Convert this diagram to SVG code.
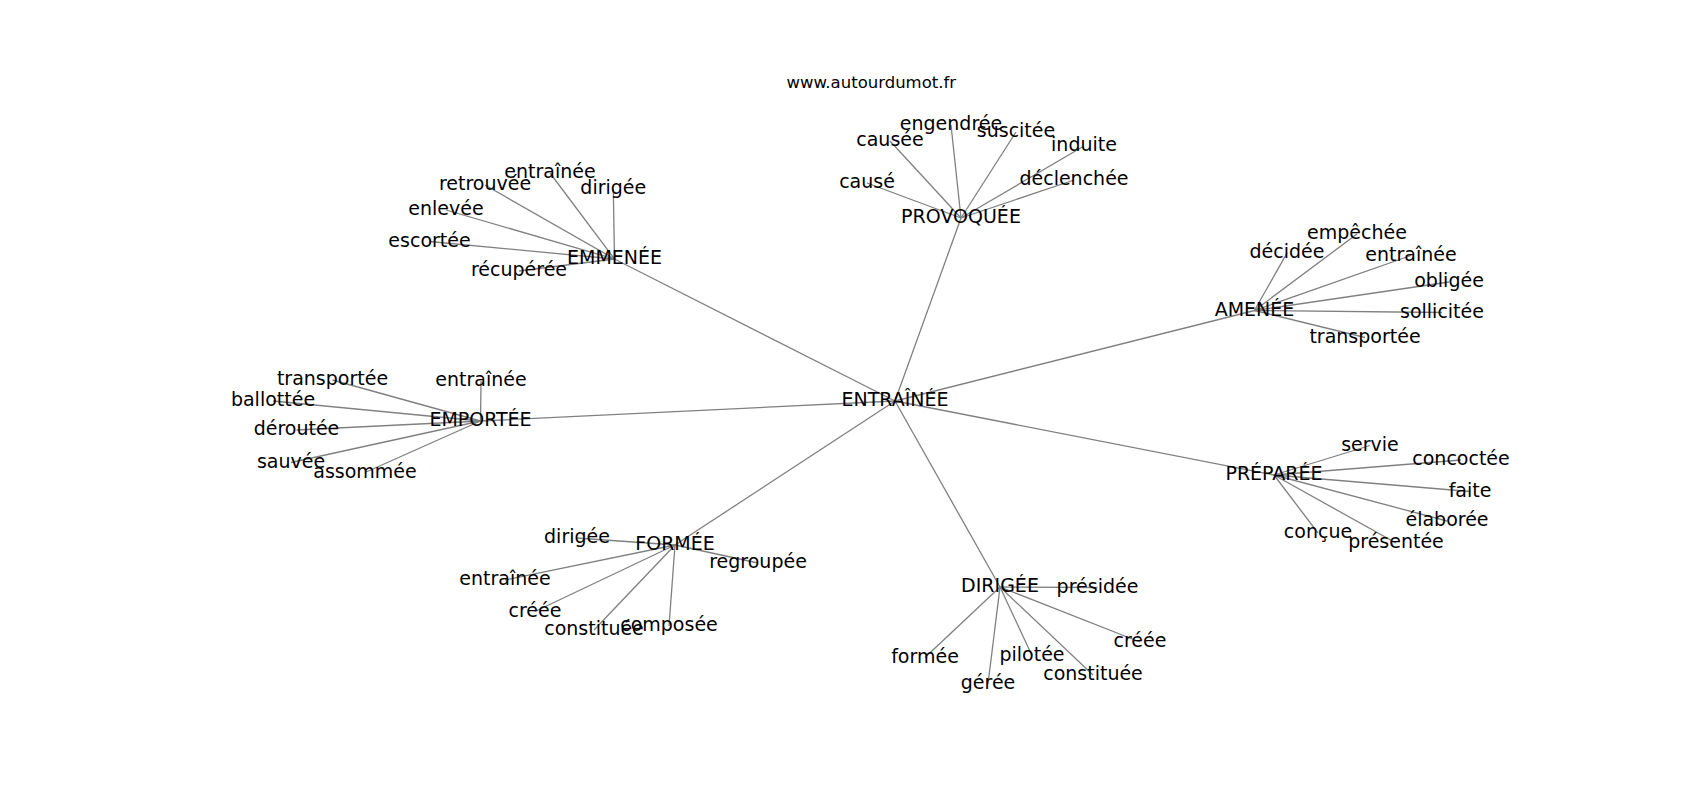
<svg xmlns="http://www.w3.org/2000/svg" width="1700" height="800" viewBox="0 0 1700 800">
<style>
.e{stroke:#808080;stroke-width:1.3;fill:none}
text{font-family:"DejaVu Sans",sans-serif;font-size:19px;fill:#000;text-anchor:middle}
.t{font-size:16.5px}
</style>
<rect width="1700" height="800" fill="#fff"/>
<text class="t" x="871.25" y="88">www.autourdumot.fr</text>
<g id="edges">
<line class="e" x1="895" y1="401" x2="614.5" y2="259"/>
<line class="e" x1="895" y1="401" x2="961" y2="218"/>
<line class="e" x1="895" y1="401" x2="1254.5" y2="310.5"/>
<line class="e" x1="895" y1="401" x2="480.5" y2="421"/>
<line class="e" x1="895" y1="401" x2="1274" y2="475"/>
<line class="e" x1="895" y1="401" x2="675" y2="545"/>
<line class="e" x1="895" y1="401" x2="1000" y2="587"/>
<line class="e" x1="614.5" y1="259" x2="550" y2="173"/>
<line class="e" x1="614.5" y1="259" x2="485" y2="185"/>
<line class="e" x1="614.5" y1="259" x2="613.3" y2="189"/>
<line class="e" x1="614.5" y1="259" x2="446" y2="210"/>
<line class="e" x1="614.5" y1="259" x2="429.5" y2="241.5"/>
<line class="e" x1="614.5" y1="259" x2="519" y2="271"/>
<line class="e" x1="961" y1="218" x2="867" y2="183"/>
<line class="e" x1="961" y1="218" x2="890" y2="141"/>
<line class="e" x1="961" y1="218" x2="951" y2="125"/>
<line class="e" x1="961" y1="218" x2="1016" y2="132"/>
<line class="e" x1="961" y1="218" x2="1084" y2="146"/>
<line class="e" x1="961" y1="218" x2="1074" y2="180"/>
<line class="e" x1="1254.5" y1="310.5" x2="1287" y2="253"/>
<line class="e" x1="1254.5" y1="310.5" x2="1357" y2="234"/>
<line class="e" x1="1254.5" y1="310.5" x2="1411" y2="255.5"/>
<line class="e" x1="1254.5" y1="310.5" x2="1449" y2="282"/>
<line class="e" x1="1254.5" y1="310.5" x2="1442" y2="312.5"/>
<line class="e" x1="1254.5" y1="310.5" x2="1365" y2="337.5"/>
<line class="e" x1="480.5" y1="421" x2="481" y2="381"/>
<line class="e" x1="480.5" y1="421" x2="332.5" y2="380"/>
<line class="e" x1="480.5" y1="421" x2="273" y2="401"/>
<line class="e" x1="480.5" y1="421" x2="296.5" y2="430"/>
<line class="e" x1="480.5" y1="421" x2="291" y2="462.5"/>
<line class="e" x1="480.5" y1="421" x2="365" y2="472.5"/>
<line class="e" x1="1274" y1="475" x2="1370" y2="445.5"/>
<line class="e" x1="1274" y1="475" x2="1461" y2="460"/>
<line class="e" x1="1274" y1="475" x2="1470" y2="491.5"/>
<line class="e" x1="1274" y1="475" x2="1447" y2="521"/>
<line class="e" x1="1274" y1="475" x2="1318" y2="533"/>
<line class="e" x1="1274" y1="475" x2="1396" y2="543"/>
<line class="e" x1="675" y1="545" x2="577" y2="538"/>
<line class="e" x1="675" y1="545" x2="758" y2="563"/>
<line class="e" x1="675" y1="545" x2="505" y2="580"/>
<line class="e" x1="675" y1="545" x2="535" y2="611.5"/>
<line class="e" x1="675" y1="545" x2="594" y2="630"/>
<line class="e" x1="675" y1="545" x2="669" y2="626"/>
<line class="e" x1="1000" y1="587" x2="1097.5" y2="587.5"/>
<line class="e" x1="1000" y1="587" x2="1140" y2="642"/>
<line class="e" x1="1000" y1="587" x2="925" y2="657.5"/>
<line class="e" x1="1000" y1="587" x2="1032" y2="655.5"/>
<line class="e" x1="1000" y1="587" x2="988" y2="684"/>
<line class="e" x1="1000" y1="587" x2="1093" y2="675"/>
</g>
<g id="n-entrainee"><text x="895" y="406.3">ENTRAÎNÉE</text></g>
<g id="n-emmenee"><text x="614.5" y="264.3">EMMENÉE</text></g>
<g id="n-provoquee"><text x="961" y="223.3">PROVOQUÉE</text></g>
<g id="n-amenee"><text x="1254.5" y="315.8">AMENÉE</text></g>
<g id="n-emportee"><text x="480.5" y="426.3">EMPORTÉE</text></g>
<g id="n-preparee"><text x="1274" y="480.3">PRÉPARÉE</text></g>
<g id="n-formee"><text x="675" y="550.3">FORMÉE</text></g>
<g id="n-dirigee"><text x="1000" y="592.3">DIRIGÉE</text></g>
<g id="n-emm-entrainee"><text x="550" y="178.3">entraînée</text></g>
<g id="n-emm-retrouvee"><text x="485" y="190.3">retrouvée</text></g>
<g id="n-emm-dirigee"><text x="613.3" y="194.3">dirigée</text></g>
<g id="n-emm-enlevee"><text x="446" y="215.3">enlevée</text></g>
<g id="n-emm-escortee"><text x="429.5" y="246.8">escortée</text></g>
<g id="n-emm-recuperee"><text x="519" y="276.3">récupérée</text></g>
<g id="n-pro-cause"><text x="867" y="188.3">causé</text></g>
<g id="n-pro-causee"><text x="890" y="146.3">causée</text></g>
<g id="n-pro-engendree"><text x="951" y="130.3">engendrée</text></g>
<g id="n-pro-suscitee"><text x="1016" y="137.3">suscitée</text></g>
<g id="n-pro-induite"><text x="1084" y="151.3">induite</text></g>
<g id="n-pro-declenchee"><text x="1074" y="185.3">déclenchée</text></g>
<g id="n-ame-decidee"><text x="1287" y="258.3">décidée</text></g>
<g id="n-ame-empechee"><text x="1357" y="239.3">empêchée</text></g>
<g id="n-ame-entrainee"><text x="1411" y="260.8">entraînée</text></g>
<g id="n-ame-obligee"><text x="1449" y="287.3">obligée</text></g>
<g id="n-ame-sollicitee"><text x="1442" y="317.8">sollicitée</text></g>
<g id="n-ame-transportee"><text x="1365" y="342.8">transportée</text></g>
<g id="n-emp-entrainee"><text x="481" y="386.3">entraînée</text></g>
<g id="n-emp-transportee"><text x="332.5" y="385.3">transportée</text></g>
<g id="n-emp-ballottee"><text x="273" y="406.3">ballottée</text></g>
<g id="n-emp-deroutee"><text x="296.5" y="435.3">déroutée</text></g>
<g id="n-emp-sauvee"><text x="291" y="467.8">sauvée</text></g>
<g id="n-emp-assommee"><text x="365" y="477.8">assommée</text></g>
<g id="n-pre-servie"><text x="1370" y="450.8">servie</text></g>
<g id="n-pre-concoctee"><text x="1461" y="465.3">concoctée</text></g>
<g id="n-pre-faite"><text x="1470" y="496.8">faite</text></g>
<g id="n-pre-elaboree"><text x="1447" y="526.3">élaborée</text></g>
<g id="n-pre-concue"><text x="1318" y="538.3">conçue</text></g>
<g id="n-pre-presentee"><text x="1396" y="548.3">présentée</text></g>
<g id="n-for-dirigee"><text x="577" y="543.3">dirigée</text></g>
<g id="n-for-regroupee"><text x="758" y="568.3">regroupée</text></g>
<g id="n-for-entrainee"><text x="505" y="585.3">entraînée</text></g>
<g id="n-for-creee"><text x="535" y="616.8">créée</text></g>
<g id="n-for-constituee"><text x="594" y="635.3">constituée</text></g>
<g id="n-for-composee"><text x="669" y="631.3">composée</text></g>
<g id="n-dir-presidee"><text x="1097.5" y="592.8">présidée</text></g>
<g id="n-dir-creee"><text x="1140" y="647.3">créée</text></g>
<g id="n-dir-formee"><text x="925" y="662.8">formée</text></g>
<g id="n-dir-pilotee"><text x="1032" y="660.8">pilotée</text></g>
<g id="n-dir-geree"><text x="988" y="689.3">gérée</text></g>
<g id="n-dir-constituee"><text x="1093" y="680.3">constituée</text></g>
</svg>
